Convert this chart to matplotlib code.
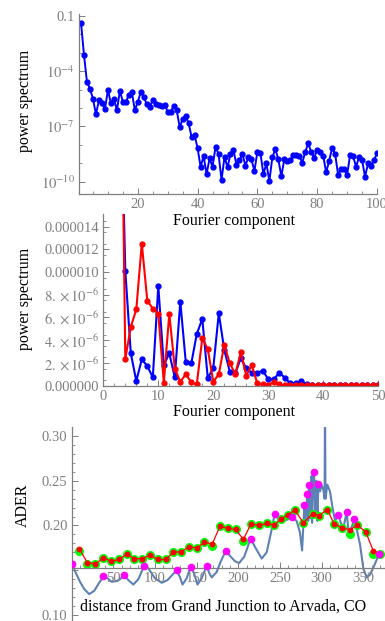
import numpy as np
import matplotlib.pyplot as plt
from matplotlib.ticker import FixedLocator, FixedFormatter, NullFormatter

plt.rcParams['font.family'] = ['Liberation Serif', 'DejaVu Serif']
plt.rcParams['mathtext.fontset'] = 'stix'

# ---- panel 1: power spectrum (log), components 1..100
comp = np.arange(1, 101)
spec_log10 = [-1.36, -3.12, -4.59, -4.95, -5.49, -6.34, -5.57, -5.71, -6.07, -5.02,
              -5.75, -5.49, -6.13, -5.06, -5.66, -5.67, -5.29, -5.13, -6.11, -5.66,
              -5.13, -5.40, -5.80, -5.96, -5.57, -5.76, -5.84, -5.89, -5.82, -6.20,
              -6.20, -5.89, -6.11, -7.03, -6.60, -6.42, -6.83, -7.58, -7.47, -8.19,
              -9.19, -8.61, -9.59, -8.74, -9.19, -8.10, -8.50, -9.91, -8.65, -9.23,
              -8.50, -8.28, -9.10, -8.83, -8.50, -9.13, -8.65, -8.79, -9.42, -8.37,
              -8.43, -9.59, -9.01, -9.97, -8.68, -8.23, -8.79, -9.70, -8.79, -8.88,
              -8.83, -8.57, -8.57, -8.59, -8.97, -8.39, -7.92, -8.39, -8.70, -8.26,
              -8.37, -8.59, -9.50, -8.86, -8.16, -8.50, -9.64, -9.30, -9.30, -9.64,
              -8.54, -8.61, -9.19, -8.66, -8.83, -9.73, -9.01, -9.15, -8.83, -8.46]
spec = 10.0 ** np.array(spec_log10)
p1_yticks = [1e-1, 1e-4, 1e-7, 1e-10]
p1_ylabels = ['0.1', r'$10^{-4}$', r'$10^{-7}$', r'$10^{-10}$']
p1_xticks = [20, 40, 60, 80, 100]

# ---- panel 2: power spectrum (linear), components 3..50
comp2 = np.arange(3, 51)
blue2 = [30.0, 10.1, 2.85, 0.41, 2.32, 1.73, 0.73, 8.75, 1.8, 2.85,
         0.73, 7.4, 2.05, 1.97, 4.55, 5.87, 0.65, 1.58, 6.37, 3.14,
         1.23, 1.09, 2.41, 1.53, 1.14, 1.14, 1.32, 0.56, 0.56, 1.14,
         0.70, 0.20, 0.23, 0.38, 0.12, 0.03, 0.02, 0.02, 0.02, 0.02,
         0.02, 0.02, 0.02, 0.02, 0.02, 0.02, 0.02, 0.02]
red2 = [40.0, 2.35, 5.17, 6.72, 12.5, 7.48, 6.78, 6.34, 0.26, 6.34,
        1.50, 0.35, 1.0, 0.29, 0.12, 4.2, 3.2, 0.35, 1.0, 3.6,
        1.97, 1.03, 2.93, 0.88, 1.82, 0.2, 0.12, 0.09, 0.32, 0.12,
        0.03, 0.03, 0.03, 0.03, 0.03, 0.03, 0.03, 0.03, 0.03, 0.03,
        0.03, 0.03, 0.03, 0.03, 0.03, 0.03, 0.03, 0.03]
p2_yticks = [0, 2e-6, 4e-6, 6e-6, 8e-6, 1e-5, 1.2e-5, 1.4e-5]
p2_ylabels = ['0.000000', r'$2.\times10^{-6}$', r'$4.\times10^{-6}$',
              r'$6.\times10^{-6}$', r'$8.\times10^{-6}$',
              '0.000010', '0.000012', '0.000014']
p2_xticks = [0, 10, 20, 30, 40, 50]

# ---- panel 3: ADER along the route
seg_x = [9.2, 18.8, 28.5, 38, 47.2, 56.8, 66, 75.2, 84.8, 94,
         103.2, 112.8, 122, 131.2, 140.8, 150, 159.2, 168.8, 178, 187.2,
         196.8, 206, 215.2, 224.8, 234, 243, 251.2, 259.2, 268, 278,
         289, 296.8, 306.8, 314.8, 324, 334, 342.8, 352.8, 362, 370]
seg_red = [0.174, 0.1585, 0.157, 0.164, 0.160, 0.162, 0.168, 0.163, 0.163, 0.167,
           0.162, 0.162, 0.170, 0.1707, 0.176, 0.175, 0.181, 0.1796, 0.1993, 0.1967,
           0.1956, 0.1844, 0.2019, 0.2000, 0.2022, 0.2005, 0.207, 0.212, 0.217, 0.203,
           0.213, 0.211, 0.2178, 0.2019, 0.1974, 0.1952, 0.2003, 0.193, 0.1715, 0.1685]
seg_green = [0.1715, 0.1575, 0.157, 0.164, 0.160, 0.162, 0.168, 0.163, 0.163, 0.167,
             0.162, 0.162, 0.170, 0.1707, 0.176, 0.175, 0.181, 0.177, 0.1993, 0.1967,
             0.1956, 0.1826, 0.2019, 0.2000, 0.2022, 0.2005, 0.207, 0.212, 0.217, 0.203,
             0.213, 0.211, 0.2178, 0.2019, 0.1974, 0.190, 0.2003, 0.193, 0.1678, 0.1678]
site_x = [0, 38, 62.8, 86.8, 126, 142.8, 162, 184.8, 214.8, 243.6,
          264.8, 279.2, 282.8, 284.8, 290.8, 296, 320, 330, 338.8, 368.8]
site_y = [0.1574, 0.1437, 0.1444, 0.1548, 0.1504, 0.154, 0.1548, 0.1715, 0.1854, 0.2133,
          0.2096, 0.2224, 0.2352, 0.2454, 0.26, 0.2460, 0.2117, 0.2150, 0.2067, 0.1680]
curve_x = [0, 5, 10, 15, 21, 27, 33, 38, 43, 48, 54, 58, 62.8, 68, 74, 80, 86.8,
           92, 100, 108, 115, 121, 126, 130, 133, 138, 142.8, 147, 151, 156, 162,
           165, 168, 174, 179, 184.8, 190, 196, 201, 207, 214.8, 220, 228, 234, 240,
           243.6, 248, 254, 260, 264.8, 270, 274, 276.5, 279.2, 280.5, 282.8, 283.8,
           284.8, 286, 287.5, 288.5, 289.5, 290.8, 292, 293.5, 295, 296, 298, 300,
           302, 303.5, 304, 304.6, 306.8, 310, 313, 316, 320, 323, 326, 330,
           331.5, 333, 336, 338.8, 342, 346, 350, 354, 358, 363, 368.8]
curve_y = [0.1574, 0.147, 0.137, 0.129, 0.1233, 0.127, 0.136, 0.143, 0.141, 0.137,
           0.138, 0.140, 0.1444, 0.139, 0.134, 0.140, 0.1548, 0.152, 0.141, 0.136,
           0.139, 0.145, 0.150, 0.142, 0.134, 0.141, 0.154, 0.146, 0.134, 0.141,
           0.155, 0.147, 0.142, 0.148, 0.160, 0.1715, 0.166, 0.160, 0.158, 0.165,
           0.1854, 0.176, 0.163, 0.170, 0.1956, 0.2133, 0.207, 0.205, 0.207, 0.2096,
           0.205, 0.192, 0.172, 0.2224, 0.202, 0.2352, 0.205, 0.2454, 0.208, 0.255,
           0.203, 0.258, 0.26, 0.212, 0.25, 0.205, 0.2460, 0.238, 0.245, 0.24,
           0.23, 0.34, 0.23, 0.2456, 0.238, 0.22, 0.205, 0.2117, 0.203, 0.197,
           0.2150, 0.200, 0.189, 0.198, 0.2067, 0.196, 0.179, 0.152, 0.142, 0.145,
           0.155, 0.1680]
p3_yticks = [0.10, 0.15, 0.20, 0.25, 0.30]
p3_ylabels = ['0.10', '', '0.20', '0.25', '0.30']
p3_xticks = [50, 100, 150, 200, 250, 300, 350]

W, H = 385, 621
GREY = '#7f7f7f'
LABEL = 11.5
TICK = 10.5


def box(l, t, r, b):
    return [l / W, 1 - b / H, (r - l) / W, (b - t) / H]


def style(ax):
    ax.patch.set_visible(False)
    for s in ['top', 'right']:
        ax.spines[s].set_visible(False)
    for s in ['left', 'bottom']:
        ax.spines[s].set_color(GREY)
        ax.spines[s].set_linewidth(0.9)
    ax.tick_params(which='both', direction='in', color=GREY, labelcolor=GREY,
                   labelsize=TICK, pad=3)
    ax.tick_params(which='major', length=4, width=0.7)
    ax.tick_params(which='minor', length=2.2, width=0.6)


def ftext(x, y, s, **kw):
    fig.text(x / W, 1 - y / H, s, ha='center', va='center', fontsize=LABEL, **kw)


fig = plt.figure(figsize=(W / 100, H / 100), dpi=100)

# panel 1
ax1 = fig.add_axes(box(79, 14, 377, 194))
style(ax1)
ax1.plot(comp, spec, color='#0000ff', lw=1.4, marker='o', ms=3.5)
ax1.set_yscale('log')
ax1.set_xlim(0.33, 100)
ax1.set_ylim(10 ** -10.67, 10 ** -0.89)
ax1.yaxis.set_major_locator(FixedLocator(p1_yticks))
ax1.yaxis.set_major_formatter(FixedFormatter(p1_ylabels))
ax1.yaxis.set_minor_locator(FixedLocator([10.0 ** k for k in range(-10, 0)]))
ax1.yaxis.set_minor_formatter(NullFormatter())
ax1.xaxis.set_major_locator(FixedLocator(p1_xticks))
ax1.xaxis.set_minor_locator(FixedLocator(list(range(5, 100, 5))))

# panel 2
ax2 = fig.add_axes(box(103.3, 214, 378.3, 385.7))
style(ax2)
ax2.plot(comp2, np.array(blue2) * 1e-6, color='#0000ff', lw=1.5, marker='o', ms=3.5)
ax2.plot(comp2, np.array(red2) * 1e-6, color='#ff0000', lw=1.5, marker='o', ms=3.5)
ax2.set_xlim(0, 50)
ax2.set_ylim(0, 15.1e-6)
ax2.yaxis.set_major_locator(FixedLocator(p2_yticks))
ax2.yaxis.set_major_formatter(FixedFormatter(p2_ylabels))
ax2.yaxis.set_minor_locator(FixedLocator(list(np.arange(1, 30, 2) * 0.5e-6)))
ax2.xaxis.set_major_locator(FixedLocator(p2_xticks))
ax2.xaxis.set_minor_locator(FixedLocator(list(range(2, 50, 2))))

# panel 3
ax3 = fig.add_axes(box(71.7, 426.7, 385, 621))
style(ax3)
ax3.plot(curve_x, curve_y, color='#5e81b5', lw=1.5, zorder=1)
ax3.plot(seg_x, seg_green, 'o', color='#00ff00', ms=5.5, zorder=2)
ax3.plot(seg_x, seg_red, color='#ff0000', lw=0.9, marker='o', ms=3.2, zorder=3)
ax3.plot(site_x, site_y, 'o', color='#ff00ff', ms=4.5, zorder=4)
ax3.set_xlim(0, 376)
ax3.set_ylim(0.0933, 0.3103)
ax3.spines['bottom'].set_position(('data', 0.153))
ax3.yaxis.set_major_locator(FixedLocator(p3_yticks))
ax3.yaxis.set_major_formatter(FixedFormatter(p3_ylabels))
ax3.yaxis.set_minor_locator(FixedLocator(list(np.arange(0.10, 0.31, 0.01))))
ax3.xaxis.set_major_locator(FixedLocator(p3_xticks))
ax3.xaxis.set_minor_locator(FixedLocator(list(range(10, 376, 10))))

# axis labels
ftext(25, 101, 'power spectrum', rotation=90)
ftext(234, 221, 'Fourier component')
ftext(25, 299, 'power spectrum', rotation=90)
ftext(234, 412, 'Fourier component')
ftext(23, 505, 'ADER', rotation=90)
ftext(223, 607, 'distance from Grand Junction to Arvada, CO')

fig.savefig('out.png', dpi=100)
